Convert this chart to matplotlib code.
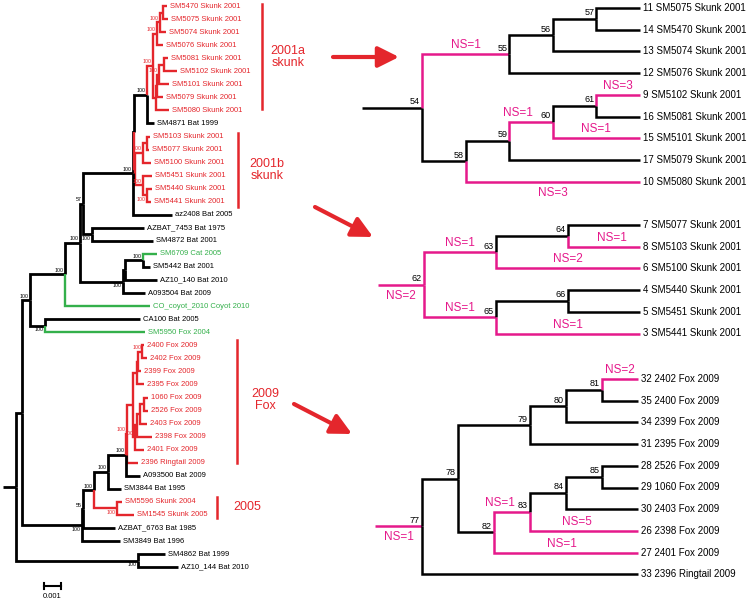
import matplotlib
matplotlib.use("Agg")
from matplotlib import pyplot as plt

plt.rcParams["font.family"] = ["Liberation Sans", "DejaVu Sans"]

RED = "#e4262c"
GREEN = "#34b04b"
PINK = "#e5198b"

# --- left tree, Newick, branch lengths in 0.001 substitutions/site ---
skunk_a = ("((((SM5470 Skunk 2001:0.24,SM5075 Skunk 2001:0.29)P1b:0.18,SM5074 Skunk 2001:0.35)P1a:0.18,"
           "SM5076 Skunk 2001:0.35)P1:0.24,((((SM5081 Skunk 2001:0.24,SM5102 Skunk 2001:0.76)Q1:0.29,"
           "SM5101 Skunk 2001:0.59)Q2:0.12,SM5079 Skunk 2001:0.35)Q3:0.06,SM5080 Skunk 2001:0.76)P2:0.18)P:0.35")
skunk_b = ("(((SM5103 Skunk 2001:0.18,SM5077 Skunk 2001:0.12)N1a:0.24,SM5100 Skunk 2001:0.47)N1:0.47,"
           "(SM5451 Skunk 2001:0.53,(SM5440 Skunk 2001:0.29,SM5441 Skunk 2001:0.24)N2a:0.24)N2:0.47)N:0.06")
clade_m = "(" + skunk_a + ",SM4871 Bat 1999:0.41)M:0.76"
clade_y = "(" + clade_m + "," + skunk_b + ")Y:0.06"
clade_i = "(" + clade_y + ",az2408 Bat 2005:2.29)I:2.94"
clade_j = "(AZBAT_7453 Bat 1975:3.06,SM4872 Bat 2001:3.59)J:0.53"
clade_g = "(" + clade_i + "," + clade_j + ")G:0.18"
clade_h = ("(((SM6709 Cat 2005:0.82,SM5442 Bat 2001:0.41)L:1.06,AZ10_140 Bat 2010:1.88)K:0.12,"
           "A093504 Bat 2009:1.29)H:2.53")
clade_f = "(" + clade_g + "," + clade_h + ")F:0.88"
clade_d = "(" + clade_f + ",CO_coyot_2010 Coyot 2010:5.0)D:2.06"
clade_e = "(CA100 Bat 2005:5.59,SM5950 Fox 2004:5.88)E:0.88"
clade_b = "(" + clade_d + "," + clade_e + ")B:0.47"
fox = ("((((2400 Fox 2009:0.12,2402 Fox 2009:0.29)R81:0.24,2399 Fox 2009:0.18)R80:0.06,2395 Fox 2009:0.41)R79:0.24,"
       "((((1060 Fox 2009:0.24,2526 Fox 2009:0.24)R85:0.24,2403 Fox 2009:0.41)R84:0.18,2398 Fox 2009:0.88)R83:0.12,"
       "2401 Fox 2009:0.53)R82:0.12)R78:0.35")
clade_r = "(" + fox + ",2396 Ringtail 2009:0.65)R:0.06"
clade_w = "(" + clade_r + ",A093500 Bat 2009:0.82)W:1.06"
clade_v = "(" + clade_w + ",SM3844 Bat 1995:0.76)V:0.82"
clade_u = "(SM5596 Skunk 2004:0.29,SM1545 Skunk 2005:1.0)U:1.35"
clade_t = "(" + clade_v + "," + clade_u + ")T:0.65"
clade_c1 = "(" + clade_t + ",AZBAT_6763 Bat 1985:1.88)C1:0.06"
clade_c = "(" + clade_c1 + ",SM3849 Bat 1996:2.24)C:3.53"
clade_a = "(" + clade_b + "," + clade_c + ")A:0.35"
clade_z = "(SM4862 Bat 1999:1.59,AZ10_144 Bat 2010:2.35)Z:7.18"
main_tree = "(" + clade_a + "," + clade_z + ")root:0.76"

support = {"B": "100", "D": "100", "E": "100", "F": "100", "G": "57", "J": "100", "H": "100",
           "L": "100", "I": "100", "M": "100", "P": "100", "P1": "100", "P1a": "100", "Q2": "100",
           "N1": "100", "N2": "100", "N2a": "100", "C": "100", "C1": "55", "T": "100", "V": "100",
           "W": "100", "U": "100", "R": "100", "R81": "100", "R82": "100", "Z": "100"}
support_below = ["E", "J", "H", "N2a", "C", "U", "Z"]
clade_colour = {"P": RED, "N": RED, "R": RED, "U": RED,
                "SM6709 Cat 2005": GREEN, "CO_coyot_2010 Coyot 2010": GREEN, "SM5950 Fox 2004": GREEN}

# --- right panels: cladograms with node numbers and nonsynonymous changes ---
panel1 = ("((((11 SM5075 Skunk 2001,14 SM5470 Skunk 2001)57,13 SM5074 Skunk 2001)56,12 SM5076 Skunk 2001)55,"
          "((((9 SM5102 Skunk 2001,16 SM5081 Skunk 2001)61,15 SM5101 Skunk 2001)60,17 SM5079 Skunk 2001)59,"
          "10 SM5080 Skunk 2001)58)54")
panel2 = ("(((7 SM5077 Skunk 2001,8 SM5103 Skunk 2001)64,6 SM5100 Skunk 2001)63,"
          "((4 SM5440 Skunk 2001,5 SM5451 Skunk 2001)66,3 SM5441 Skunk 2001)65)62")
panel3 = ("(((((32 2402 Fox 2009,35 2400 Fox 2009)81,34 2399 Fox 2009)80,31 2395 Fox 2009)79,"
          "((((28 2526 Fox 2009,29 1060 Fox 2009)85,30 2403 Fox 2009)84,26 2398 Fox 2009)83,"
          "27 2401 Fox 2009)82)78,33 2396 Ringtail 2009)77")
ns1 = {"55": "NS=1", "10": "NS=3", "60": "NS=1", "15": "NS=1", "9": "NS=3"}
ns2 = {"62": "NS=2", "63": "NS=1", "6": "NS=2", "8": "NS=1", "65": "NS=1", "3": "NS=1"}
ns3 = {"77": "NS=1", "83": "NS=1", "26": "NS=5", "27": "NS=1", "32": "NS=2"}

# layout
ROW = 13.05
PX_PER_UNIT = 17.0
panel_layout = [
    dict(tree=panel1, ns=ns1, root_x=422, tip_x=640, stem_x=362, y0=8, below=["10"], dx={"60": -13}),
    dict(tree=panel2, ns=ns2, root_x=424, tip_x=640, stem_x=378, y0=225, below=["62"], dx={"8": 8}),
    dict(tree=panel3, ns=ns3, root_x=422, tip_x=638, stem_x=375, y0=379, below=["77"],
         dx={"83": -12, "26": -7, "27": -4}),
]
PROW = 21.7


def parse(s):
    pos = 0

    def node():
        nonlocal pos
        n = {"children": [], "name": "", "length": 0.0}
        if s[pos] == "(":
            pos += 1
            n["children"].append(node())
            while s[pos] == ",":
                pos += 1
                n["children"].append(node())
            pos += 1
        start = pos
        while pos < len(s) and s[pos] not in ",():;":
            pos += 1
        n["name"] = s[start:pos].strip()
        if pos < len(s) and s[pos] == ":":
            pos += 1
            start = pos
            while pos < len(s) and s[pos] not in ",();":
                pos += 1
            n["length"] = float(s[start:pos])
        return n

    return node()


def set_y(n, y0, step, counter):
    if not n["children"]:
        n["y"] = y0 + counter[0] * step
        counter[0] += 1
    else:
        for c in n["children"]:
            set_y(c, y0, step, counter)
        n["y"] = (n["children"][0]["y"] + n["children"][-1]["y"]) / 2


def set_x(n, x):
    n["x"] = x + n["length"] * PX_PER_UNIT
    for c in n["children"]:
        set_x(c, n["x"])


def set_h(n):
    n["h"] = 0 if not n["children"] else 1 + max(set_h(c) for c in n["children"])
    return n["h"]


fig = plt.figure(figsize=(7.49, 6.03), dpi=100)
ax = fig.add_axes([0, 0, 1, 1])
ax.set_xlim(0, 749)
ax.set_ylim(603, 0)
ax.axis("off")

# ---- main tree ----
tree = parse(main_tree)
set_y(tree, 6, ROW, [0])
x_start = 3
set_x(tree, x_start)
ax.plot([x_start, tree["x"]], [tree["y"], tree["y"]], color="black", lw=2.0, solid_capstyle="butt")


def draw_main(n, colour):
    colour = clade_colour.get(n["name"], colour)
    n["colour"] = colour
    for c in n["children"]:
        cc = clade_colour.get(c["name"], colour)
        ax.plot([n["x"], n["x"], c["x"]], [n["y"], c["y"], c["y"]], color=cc,
                lw=2.0 if cc == "black" else 1.7, solid_joinstyle="miter", solid_capstyle="butt")
        draw_main(c, colour)
    if not n["children"]:
        ax.text(n["x"] + 3, n["y"], n["name"], fontsize=5.5, color=colour, va="center", ha="left")
    elif n["name"] in support:
        if n["name"] in support_below:
            ax.text(n["x"] - 1, n["y"] + 1.5, support[n["name"]], fontsize=3.8, color=colour,
                    ha="right", va="top")
        else:
            ax.text(n["x"] - 1, n["y"] - 1.5, support[n["name"]], fontsize=3.8, color=colour,
                    ha="right", va="bottom")


draw_main(tree, "black")

# scale bar
sx0 = 44
sx1 = sx0 + 1.0 * PX_PER_UNIT
ax.plot([sx0, sx1], [586, 586], color="black", lw=1.5)
ax.plot([sx0, sx0], [583, 589], color="black", lw=1.5)
ax.plot([sx1, sx1], [583, 589], color="black", lw=1.5)
ax.text((sx0 + sx1) / 2, 597, "0.001", fontsize=5.5, ha="center", va="center")

# group bars and labels
groups = [("2001a\nskunk", 262, 4, 109, 288, 57),
          ("2001b\nskunk", 238, 133, 207, 267, 170),
          ("2009\nFox", 237, 340, 463, 265, 400),
          ("2005", 217, 497, 518, 247, 507)]
for text, bx, by0, by1, tx, ty in groups:
    ax.plot([bx, bx], [by0, by1], color=RED, lw=1.8)
    ax.text(tx, ty, text, fontsize=9, color=RED, ha="center", va="center", linespacing=1.0)

# arrows
arrows = [((333, 57), (399, 57)), ((315, 207), (373, 237)), ((294, 404), (352, 434))]
for start, end in arrows:
    ax.annotate("", xy=end, xytext=start,
                arrowprops=dict(arrowstyle="-|>,head_length=0.9,head_width=0.45", color=RED, lw=3,
                                mutation_scale=14, shrinkA=0, shrinkB=0))

# ---- right panels ----
for p in panel_layout:
    t = parse(p["tree"])
    set_y(t, p["y0"], PROW, [0])
    H = set_h(t)

    def place(n):
        n["x"] = p["root_x"] + (p["tip_x"] - p["root_x"]) * (H - n["h"]) / H
        for c in n["children"]:
            place(c)

    place(t)
    ns = p["ns"]

    def key(n):
        return n["name"].split()[0]

    def ns_label(k, x0, x1, y):
        if k not in ns:
            return
        xc = (x0 + x1) / 2 + p["dx"].get(k, 0)
        if k in p["below"]:
            ax.text(xc, y + 11, ns[k], fontsize=8.5, color=PINK, ha="center", va="center")
        else:
            ax.text(xc, y - 9, ns[k], fontsize=8.5, color=PINK, ha="center", va="center")

    rk = key(t)
    ax.plot([p["stem_x"], t["x"]], [t["y"], t["y"]], color=PINK if rk in ns else "black", lw=1.8,
            solid_capstyle="butt")
    ns_label(rk, p["stem_x"], t["x"], t["y"])

    def draw_panel(n):
        for c in n["children"]:
            k = key(c)
            col = PINK if k in ns else "black"
            ax.plot([n["x"], n["x"], c["x"]], [n["y"], c["y"], c["y"]], color=col, lw=1.8,
                    solid_joinstyle="miter", solid_capstyle="butt")
            ns_label(k, n["x"], c["x"], c["y"])
            draw_panel(c)
        if n["children"]:
            ax.text(n["x"] - 2, n["y"] - 1.5, n["name"], fontsize=6.5, ha="right", va="bottom")
        else:
            ax.text(n["x"] + 3, n["y"], n["name"], fontsize=7, ha="left", va="center")

    draw_panel(t)

fig.savefig("out.png", dpi=100)
